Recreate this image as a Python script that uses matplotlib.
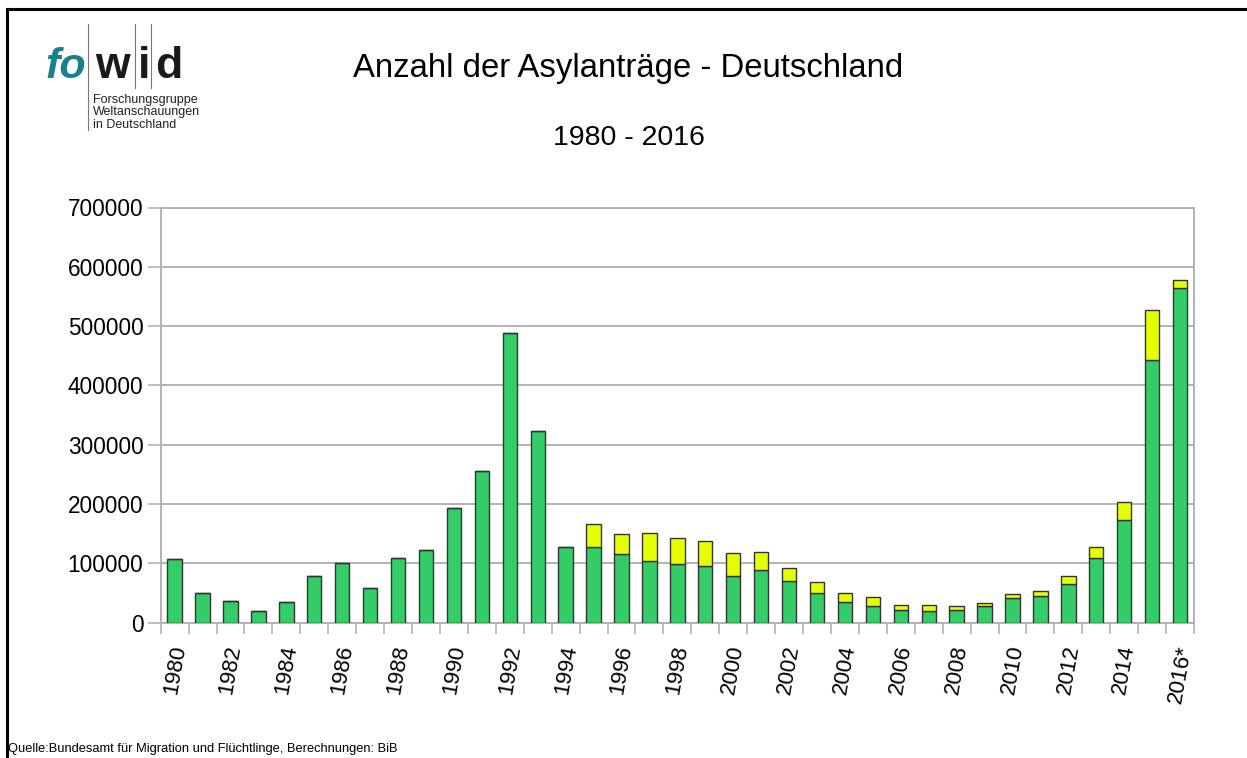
#!/usr/bin/env python3
# -*- coding: utf-8 -*-
"""Asylanträge in Deutschland 1980-2016, gestapelte Säulen (Erst- und Folgeanträge)."""

import matplotlib

matplotlib.use("Agg")
import matplotlib.pyplot as plt
from matplotlib.lines import Line2D
import numpy as np

YEARS = [str(y) for y in range(1980, 2016)] + ["2016*"]

# Erstanträge (grün)
FIRST = [
    108000, 50000, 37000, 19700, 35500, 79000, 100000, 58000, 109000, 122000,
    193000, 256000, 489000, 322600, 127500, 128000, 116000, 104500, 98500, 95500,
    78700, 88300, 71000, 50300, 35600, 28900, 21000, 19200, 22000, 27600,
    41300, 45700, 64500, 109500, 173000, 442500, 564500,
]

# Folgeanträge (gelb)
FOLLOW = [
    0, 0, 0, 0, 0, 0, 0, 0, 0, 0,
    0, 0, 0, 0, 0, 39000, 33300, 47500, 44700, 43000,
    39200, 30500, 20500, 17500, 14500, 13900, 9000, 11100, 6000, 5500,
    7200, 7700, 13400, 17900, 30200, 84500, 13000,
]

YTICKS = [0, 100000, 200000, 300000, 400000, 500000, 600000, 700000]

GREEN = "#33cc66"
YELLOW = "#e6ff00"
EDGE = "#333333"
GRID = "#b3b3b3"
TEAL = "#16808e"

plt.rcParams["font.family"] = ["Liberation Sans", "DejaVu Sans"]

W, H = 1247, 758
fig = plt.figure(figsize=(W / 100, H / 100), dpi=100)

left, right, top, bottom = 160.7, 1194, 207.5, 622.7
ax = fig.add_axes([left / W, 1 - bottom / H, (right - left) / W, (bottom - top) / H])

x = np.arange(len(YEARS))
first = np.array(FIRST)
follow = np.array(FOLLOW)
ax.bar(x, first, width=0.515, color=GREEN, edgecolor=EDGE, linewidth=1.0, zorder=3)
ax.bar(x, follow, width=0.515, bottom=first, color=YELLOW, edgecolor=EDGE,
       linewidth=1.0, zorder=3)

ax.set_xlim(-0.5, len(YEARS) - 0.5)
ax.set_ylim(0, 700000)
ax.set_yticks(YTICKS)
ax.set_yticklabels([str(v) for v in YTICKS], fontsize=16.3)
ax.yaxis.grid(True, color=GRID, linewidth=1.4, zorder=0)

# Trennstriche zwischen den Jahren, Beschriftung jedes zweite Jahr
ax.set_xticks(np.arange(-0.5, len(YEARS), 1.0))
ax.set_xticklabels([])
ax.set_xticks(x[::2], minor=True)
ax.set_xticklabels(YEARS[::2], minor=True, rotation=80, fontsize=16,
                   ha="center", va="top")
ax.tick_params(axis="x", which="major", length=8, width=1.2, color=GRID)
ax.tick_params(axis="x", which="minor", length=0, pad=15)
ax.tick_params(axis="y", length=9.4, width=1.2, color=GRID, pad=3)

for side in ("left", "right", "top", "bottom"):
    ax.spines[side].set_color(GRID)
    ax.spines[side].set_linewidth(1.4)

fig.text(628 / W, 1 - 68 / H, "Anzahl der Asylanträge - Deutschland",
         fontsize=23.7, ha="center", va="center")
fig.text(629 / W, 1 - 138 / H, "1980 - 2016", fontsize=20.5, ha="center", va="center")

fig.text(8 / W, 1 - 752 / H,
         "Quelle:Bundesamt für Migration und Flüchtlinge, Berechnungen: BiB",
         fontsize=9.3, family=["Liberation Sans Narrow", "Liberation Sans"],
         ha="left", va="baseline")

# Logo
fig.text(45 / W, 1 - 78 / H, "fo", fontsize=31, fontweight="bold", style="italic",
         color=TEAL, ha="left", va="baseline")
fig.text(95 / W, 1 - 78 / H, "w", fontsize=32, fontweight="bold", color="#1a1a1a",
         ha="left", va="baseline")
fig.text(138 / W, 1 - 78 / H, "i", fontsize=32, fontweight="bold", color="#1a1a1a",
         ha="left", va="baseline")
fig.text(155 / W, 1 - 78 / H, "d", fontsize=32, fontweight="bold", color="#1a1a1a",
         ha="left", va="baseline")
for lx, y0, y1 in ((88, 24, 130), (135, 24, 88), (151, 24, 88)):
    fig.add_artist(Line2D([lx / W, lx / W], [1 - y0 / H, 1 - y1 / H],
                          color="#777777", linewidth=0.8))
for i, line in enumerate(["Forschungsgruppe", "Weltanschauungen", "in Deutschland"]):
    fig.text(93 / W, 1 - (103.5 + i * 12) / H, line, fontsize=9, color="#222222",
             ha="left", va="baseline")

# Rahmen links und oben
fig.add_artist(Line2D([7 / W, 7 / W], [0, 1 - 9 / H], color="black", linewidth=2.2))
fig.add_artist(Line2D([7 / W, 1], [1 - 9 / H, 1 - 9 / H], color="black", linewidth=2.2))

fig.savefig("out.png", dpi=100, facecolor="white")
